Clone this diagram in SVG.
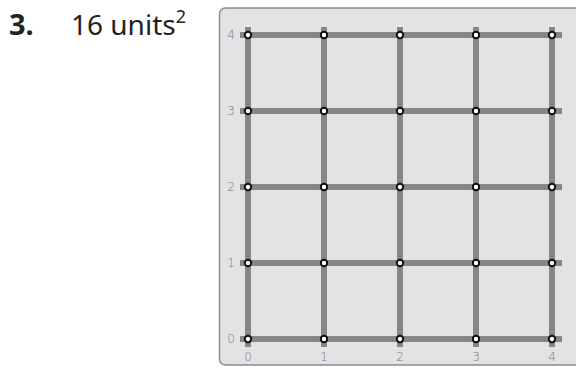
<svg xmlns="http://www.w3.org/2000/svg" width="576" height="368" viewBox="0 0 576 368">
<style>
.gl{stroke:#868789;stroke-width:6;fill:none}
.pt{fill:#fff;stroke:#111;stroke-width:2}
.lb{font-family:"DejaVu Sans",sans-serif;font-weight:200;font-size:12px;fill:#7a7a7a}
.t{font-family:"Noto Sans","Liberation Sans",sans-serif;fill:#222}
</style>
<rect width="576" height="368" fill="#fff"/>
<g id="title">
<text class="t" x="9" y="35" font-size="29" font-weight="bold">3.</text>
<text class="t" x="71" y="35" font-size="28">16 units<tspan font-size="18" dy="-12">2</tspan></text>
</g>
<g id="panel">
<rect x="219.5" y="8" width="370" height="357" rx="6" fill="#e2e3e5" stroke="#8c8c8c" stroke-width="1.5"/>
</g>
<g id="connectors">
<path class="gl" d="M240 35H562M240 111H562M240 187H562M240 263H562M240 339H562"/>
<path class="gl" d="M248 27V347M324 27V347M400 27V347M476 27V347M552 27V347"/>
</g>
<g id="labels">
<text class="lb" x="231" y="39" text-anchor="middle">4</text>
<text class="lb" x="231" y="115" text-anchor="middle">3</text>
<text class="lb" x="231" y="191" text-anchor="middle">2</text>
<text class="lb" x="231" y="267" text-anchor="middle">1</text>
<text class="lb" x="231" y="343" text-anchor="middle">0</text>
<text class="lb" x="248" y="361" text-anchor="middle">0</text>
<text class="lb" x="324" y="361" text-anchor="middle">1</text>
<text class="lb" x="400" y="361" text-anchor="middle">2</text>
<text class="lb" x="476" y="361" text-anchor="middle">3</text>
<text class="lb" x="552" y="361" text-anchor="middle">4</text>
</g>
<g id="points">
<circle class="pt" cx="248" cy="35" r="3.2"/><circle class="pt" cx="324" cy="35" r="3.2"/><circle class="pt" cx="400" cy="35" r="3.2"/><circle class="pt" cx="476" cy="35" r="3.2"/><circle class="pt" cx="552" cy="35" r="3.2"/>
<circle class="pt" cx="248" cy="111" r="3.2"/><circle class="pt" cx="324" cy="111" r="3.2"/><circle class="pt" cx="400" cy="111" r="3.2"/><circle class="pt" cx="476" cy="111" r="3.2"/><circle class="pt" cx="552" cy="111" r="3.2"/>
<circle class="pt" cx="248" cy="187" r="3.2"/><circle class="pt" cx="324" cy="187" r="3.2"/><circle class="pt" cx="400" cy="187" r="3.2"/><circle class="pt" cx="476" cy="187" r="3.2"/><circle class="pt" cx="552" cy="187" r="3.2"/>
<circle class="pt" cx="248" cy="263" r="3.2"/><circle class="pt" cx="324" cy="263" r="3.2"/><circle class="pt" cx="400" cy="263" r="3.2"/><circle class="pt" cx="476" cy="263" r="3.2"/><circle class="pt" cx="552" cy="263" r="3.2"/>
<circle class="pt" cx="248" cy="339" r="3.2"/><circle class="pt" cx="324" cy="339" r="3.2"/><circle class="pt" cx="400" cy="339" r="3.2"/><circle class="pt" cx="476" cy="339" r="3.2"/><circle class="pt" cx="552" cy="339" r="3.2"/>
</g>
</svg>
